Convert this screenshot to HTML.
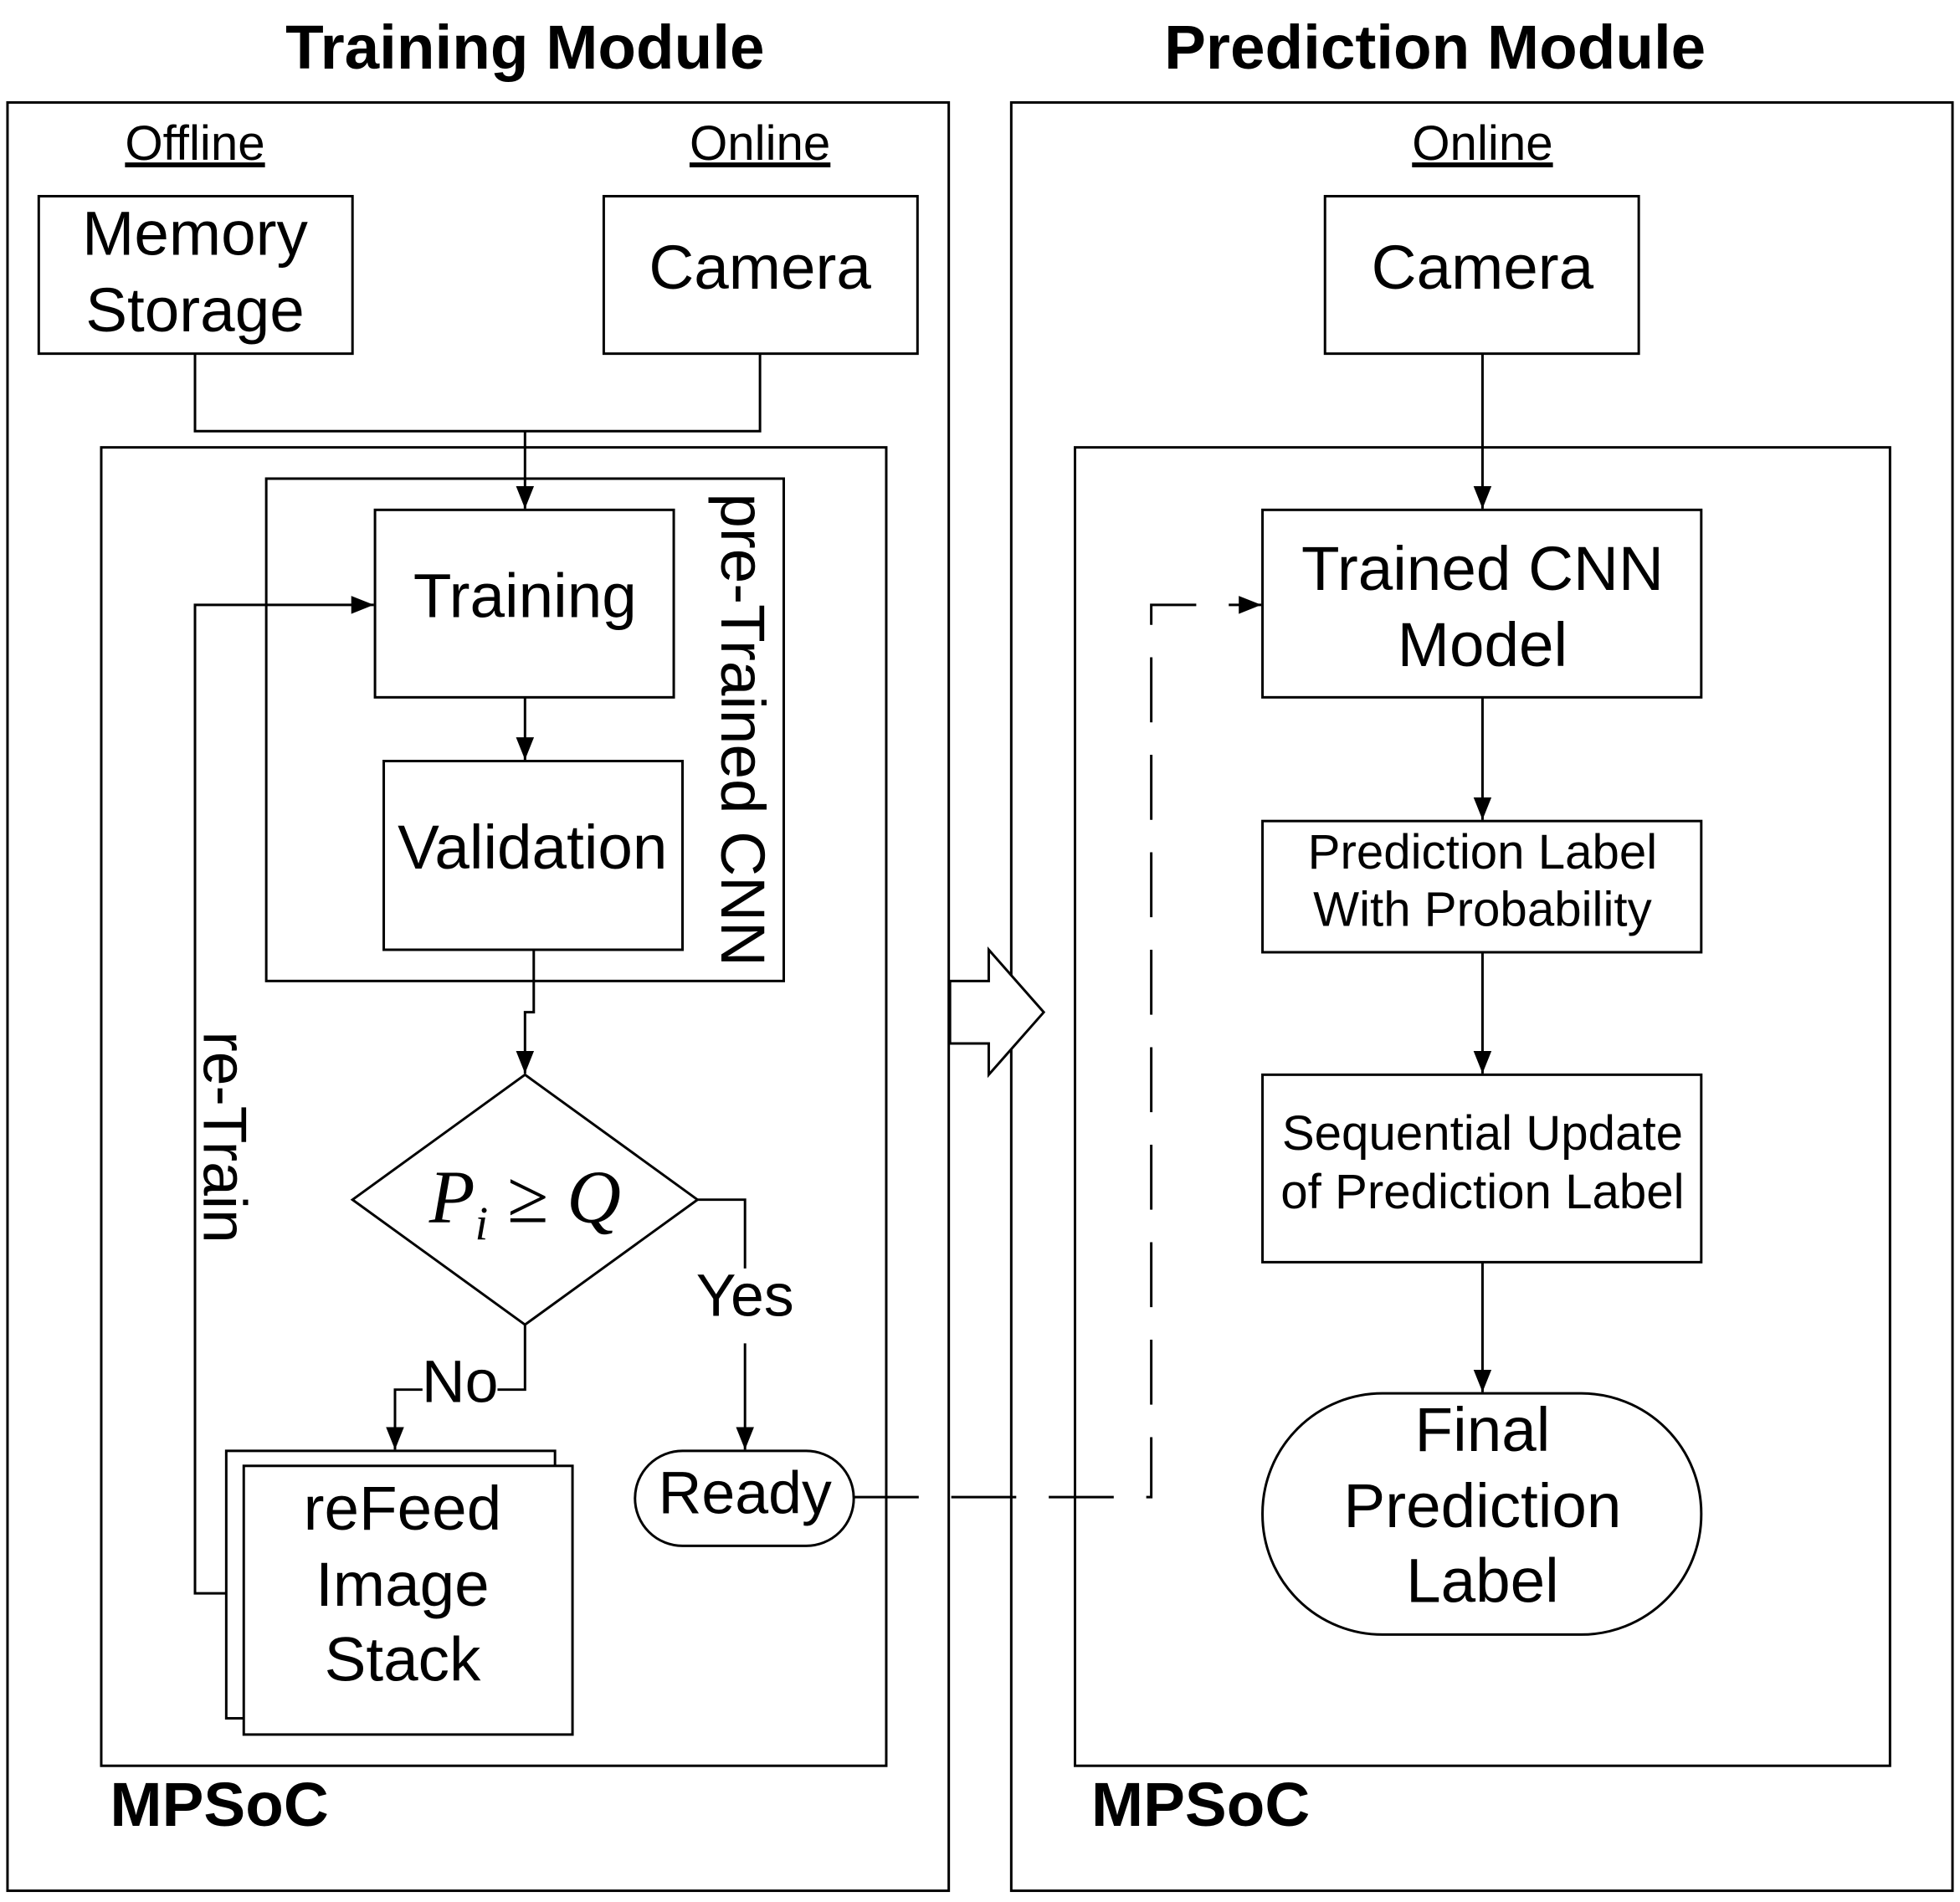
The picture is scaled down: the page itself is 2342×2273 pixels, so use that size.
<!DOCTYPE html>
<html><head><meta charset="utf-8"><style>
html,body{margin:0;padding:0;background:#fff;}
svg{display:block;}
text{font-family:"Liberation Sans",sans-serif;fill:#000;}
</style></head><body>
<svg width="2342" height="2273" viewBox="0 0 1568 1522" preserveAspectRatio="none" xmlns="http://www.w3.org/2000/svg">
<defs>
<marker id="b" viewBox="0 0 10 10" markerWidth="18" markerHeight="18" refX="10" refY="5" orient="auto" markerUnits="userSpaceOnUse">
<path d="M0,1 L10,5 L0,9 Z" fill="#000"/></marker>
</defs>
<g fill="none" stroke="#000" stroke-width="2">
<rect x="6" y="82" width="753" height="1431"/>
<rect x="809" y="82" width="753" height="1431"/>
<rect x="31" y="157" width="251" height="126"/>
<rect x="483" y="157" width="251" height="126"/>
<rect x="1060" y="157" width="251" height="126"/>
<rect x="81" y="358" width="628" height="1055"/>
<rect x="860" y="358" width="652" height="1055"/>
<rect x="213" y="383" width="414" height="402"/>
<rect x="300" y="408" width="239" height="150"/>
<rect x="307" y="609" width="239" height="151"/>
<polygon points="420,860 558,960 420,1060 282,960"/>
<rect x="508" y="1161" width="175" height="76" rx="38"/>
<rect x="181" y="1161" width="263" height="214" fill="#fff"/>
<rect x="195" y="1173" width="263" height="215" fill="#fff"/>
<rect x="1010" y="408" width="351" height="150"/>
<rect x="1010" y="657" width="351" height="105"/>
<rect x="1010" y="860" width="351" height="150"/>
<rect x="1010" y="1115" width="351" height="193" rx="96"/>
<polyline points="156,283 156,345 608,345 608,283"/>
<line x1="420" y1="345" x2="420" y2="407" marker-end="url(#b)"/>
<line x1="420" y1="558" x2="420" y2="608" marker-end="url(#b)"/>
<polyline points="427,760 427,810 420,810 420,859" marker-end="url(#b)"/>
<polyline points="558,960 596,960 596,1015"/>
<line x1="596" y1="1075" x2="596" y2="1160" marker-end="url(#b)"/>
<polyline points="420,1060 420,1112 398,1112"/>
<polyline points="338,1112 316,1112 316,1160" marker-end="url(#b)"/>
<polyline points="181,1275 156,1275 156,484 299,484" marker-end="url(#b)"/>
<polyline points="683,1198 921,1198 921,484 1009,484" stroke-dasharray="52,26" marker-end="url(#b)"/>
<line x1="1186" y1="283" x2="1186" y2="407" marker-end="url(#b)"/>
<line x1="1186" y1="558" x2="1186" y2="656" marker-end="url(#b)"/>
<line x1="1186" y1="762" x2="1186" y2="859" marker-end="url(#b)"/>
<line x1="1186" y1="1010" x2="1186" y2="1114" marker-end="url(#b)"/>
<polygon points="760,785 791,785 791,760 835,810 791,860 791,835 760,835" fill="#fff"/>
</g>
<g text-anchor="middle">
<text x="420" y="55" font-size="50" font-weight="bold">Training Module</text>
<text x="1148" y="55" font-size="50" font-weight="bold">Prediction Module</text>
<text x="156" y="128" font-size="39" text-decoration="underline">Offline</text>
<text x="608" y="128" font-size="39" text-decoration="underline">Online</text>
<text x="1186" y="128" font-size="39" text-decoration="underline">Online</text>
<text x="156" y="204" font-size="50">Memory</text>
<text x="156" y="265" font-size="50">Storage</text>
<text x="608" y="231" font-size="50">Camera</text>
<text x="1186" y="231" font-size="50">Camera</text>
<text x="420" y="494" font-size="50">Training</text>
<text x="426" y="695" font-size="50">Validation</text>
<text x="596" y="1053" font-size="48">Yes</text>
<text x="368" y="1122" font-size="48">No</text>
<text x="596" y="1211" font-size="48">Ready</text>
<text x="322" y="1224" font-size="50">reFeed</text>
<text x="322" y="1285" font-size="50">Image</text>
<text x="322" y="1345" font-size="50">Stack</text>
<text x="1186" y="472" font-size="50">Trained CNN</text>
<text x="1186" y="533" font-size="50">Model</text>
<text x="1186" y="695" font-size="39">Prediction Label</text>
<text x="1186" y="741" font-size="39">With Probability</text>
<text x="1186" y="920" font-size="39">Sequential Update</text>
<text x="1186" y="967" font-size="39">of Prediction Label</text>
<text x="1186" y="1161" font-size="50">Final</text>
<text x="1186" y="1222" font-size="50">Prediction</text>
<text x="1186" y="1282" font-size="50">Label</text>
<text transform="translate(577,584) rotate(90)" font-size="50">pre-Trained CNN</text>
<text transform="translate(163,910) rotate(90)" font-size="49">re-Train</text>
<text x="420" y="978" font-size="60" style="font-family:'Liberation Serif',serif;font-style:italic">P<tspan font-size="38" dy="14">i</tspan><tspan dy="-14"> ≥ Q</tspan></text>
</g>
<text x="88" y="1461" font-size="50" font-weight="bold">MPSoC</text>
<text x="873" y="1461" font-size="50" font-weight="bold">MPSoC</text>
</svg>
</body></html>
